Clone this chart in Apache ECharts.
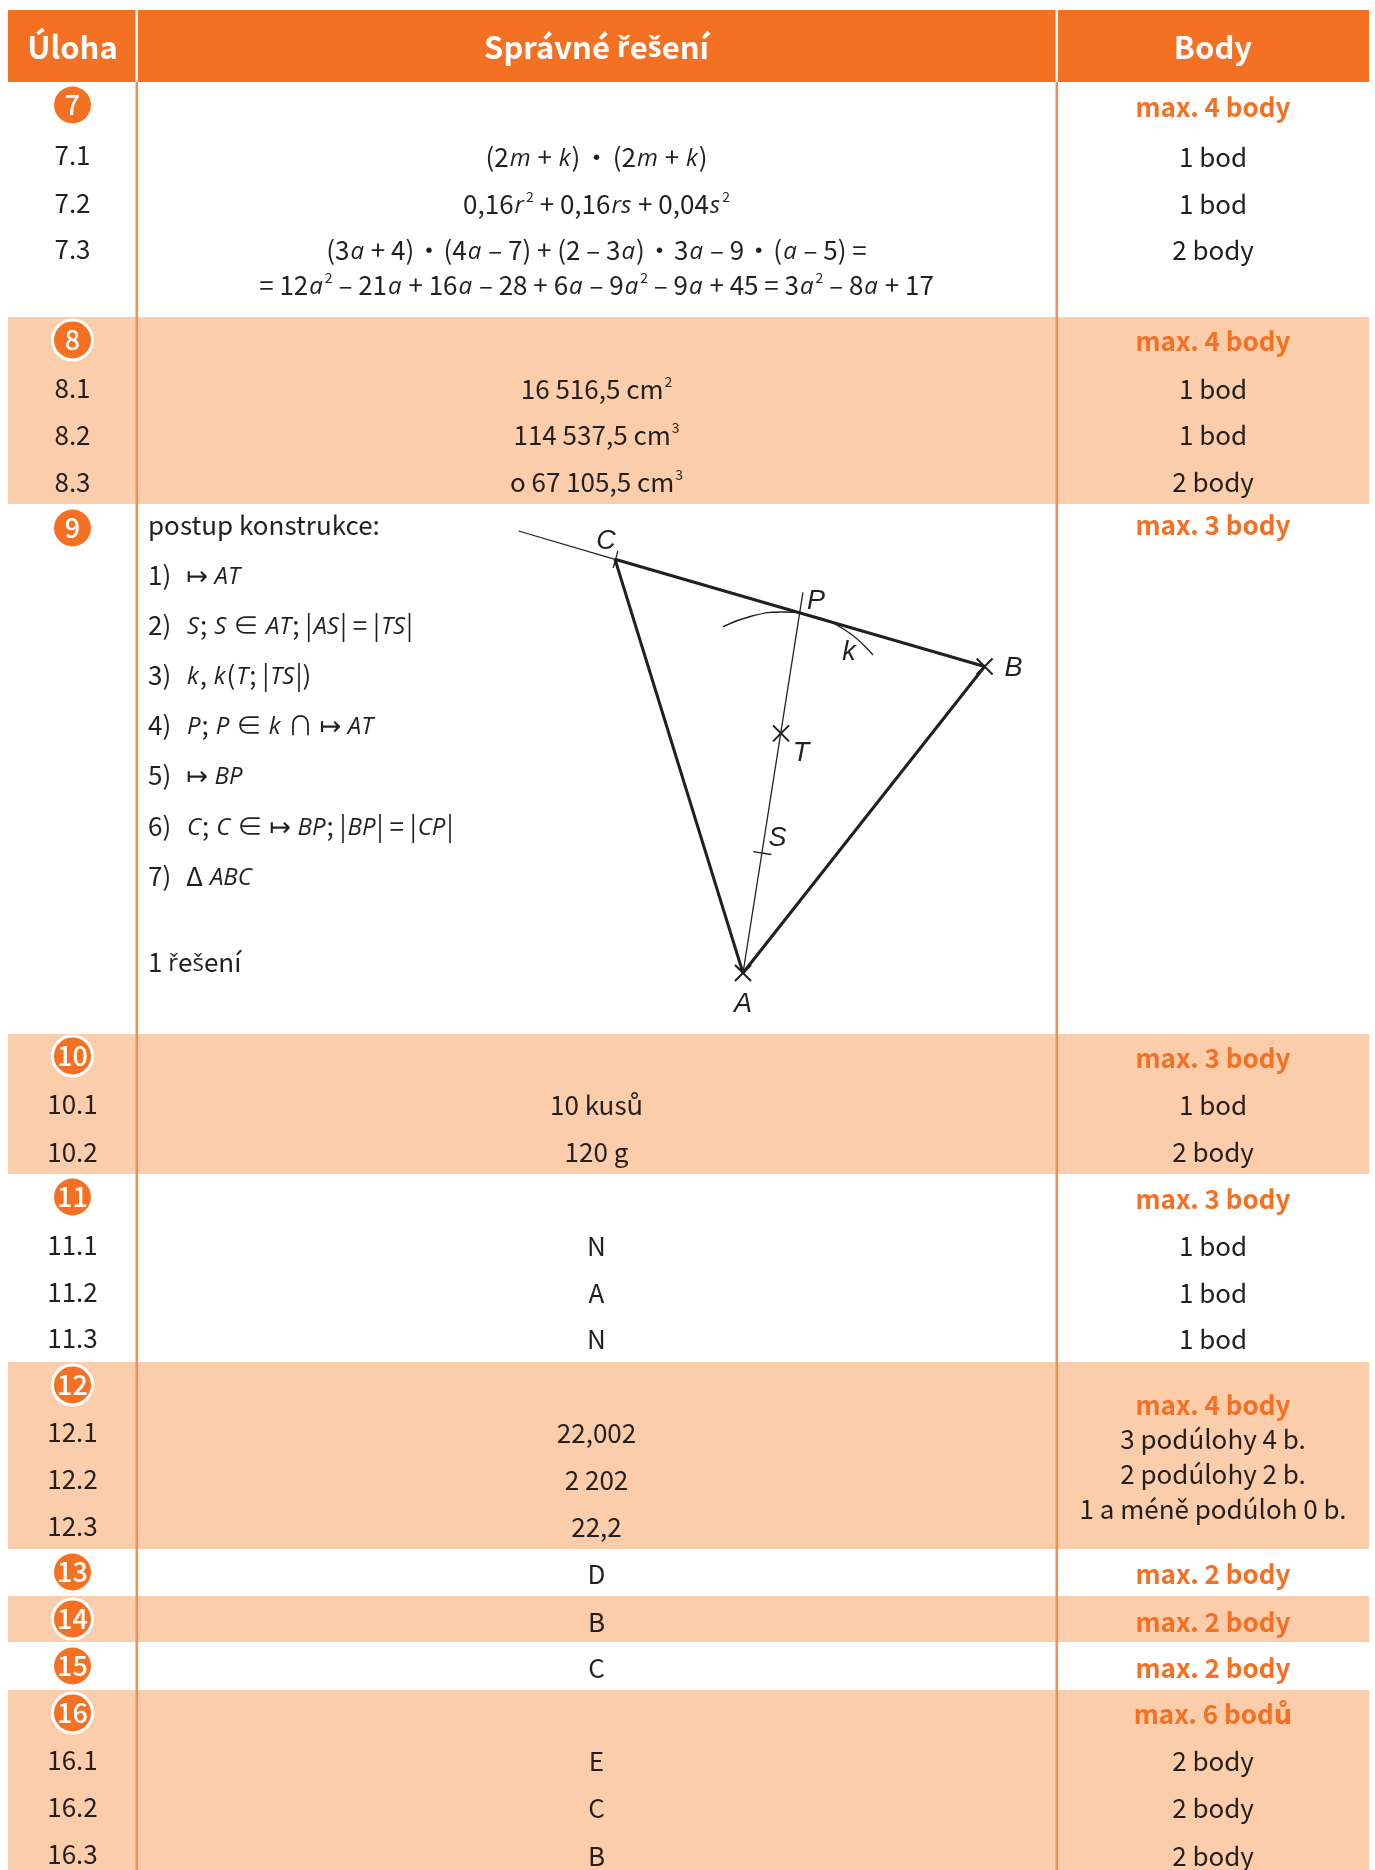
<!DOCTYPE html>
<html>
<head>
<meta charset="utf-8">
<title>Správné řešení</title>
<script src="https://cdn.jsdelivr.net/npm/echarts@6/dist/echarts.min.js"></script>
<style>
    html,body {margin:0;padding:0;background:#fff;}
    #chart {width:1375px;height:1870px;}
</style>
</head>
<body>
<div id="chart"></div>
<script>
// 表格内容
var headers = ['Úloha', 'Správné {hc|ř}e{hc|š}ení', 'Body'];
var taskPlain = ['7', '9', '11', '13', '15'];
var taskBanded = ['8', '10', '12', '14', '16'];
var subtasks = ['7.1','7.2','7.3','8.1','8.2','8.3','10.1','10.2','11.1','11.2','11.3','12.1','12.2','12.3','16.1','16.2','16.3'];
var answers = [
    '(2{i|m} + {i|k})\u200a\u200a·\u200a\u200a(2{i|m} + {i|k})',
    '0,16{i|r}{s|2} + 0,16{i|rs} + 0,04{i|s}{s|2}',
    '(3{i|a} + 4)\u200a·\u200a(4{i|a} – 7) + (2 – 3{i|a})\u200a·\u200a3{i|a} – 9\u200a·\u200a({i|a} – 5) =',
    '= 12{i|a}{s|2} – 21{i|a} + 16{i|a} – 28 + 6{i|a} – 9{i|a}{s|2} – 9{i|a} + 45 = 3{i|a}{s|2} – 8{i|a} + 17',
    '16 516,5 cm{s|2}',
    '114 537,5 cm{s|3}',
    'o 67 105,5 cm{s|3}',
    '10 kusů', '120 g',
    'N', 'A', 'N',
    '22,002', '2 202', '22,2',
    'D', 'B', 'C',
    'E', 'C', 'B'
];
var points = ['1 bod','1 bod','2 body','1 bod','1 bod','2 body','1 bod','2 body','1 bod','1 bod','1 bod','3 podúlohy 4 b.','2 podúlohy 2 b.','1 a méně podúloh 0 b.','2 body','2 body','2 body'];
var maxPoints = ['max. 4 body','max. 4 body','max. 3 body','max. 3 body','max. 3 body','max. 4 body','max. 2 body','max. 2 body','max. 2 body','max. 6 bodů'];
var stepTitle = ['postup konstrukce:', '1 {c|ř}e{c|š}ení'];
var stepNumbers = ['1)','2)','3)','4)','5)','6)','7)'];
var stepTexts = [
    '↦ {i|AT}',
    '{i|S}; {i|S} ∈ {i|AT}; |{i|AS}| = |{i|TS}|',
    '{i|k}, {i|k}({i|T}; |{i|TS}|)',
    '{i|P}; {i|P} ∈ {i|k} ∩ ↦ {i|AT}',
    '↦ {i|BP}',
    '{i|C}; {i|C} ∈ ↦ {i|BP}; |{i|BP}| = |{i|CP}|',
    'Δ {i|ABC}'
];

// 作图的点
var pointA = [253, 47];
var pointB = [494.6, 353.5];
var pointC = [125, 460.7];
var pointP = [310, 407];
var pointT = [291, 286.6];
var rayBPEnd = [28.6, 489];
var rayATEnd = [312.9, 427.6];
var tickC = [[127.9, 469], [123.2, 452]];
var tickS = [[263.2, 168.3], [281.4, 165.5]];
var arcK = [[233, 393.4], [262, 404], [291, 408], [320, 404.5], [355, 390], [383, 365]];
var pointNames = ['A', 'B', 'C', 'P', 'T', 'S', 'k'];
var pointNameAt = [[253, 16], [523.5, 351.5], [116, 479], [326, 419], [311, 267], [287.6, 182], [359, 368]];

// 版式
var FONT = '"Noto Sans CJK SC", "DejaVu Sans", sans-serif';
var ITALIC = '"Open Sans", sans-serif';
var ORANGE = '#f47023', BAND = '#fccdab', LINE = '#f78d4e', INK = '#231f20';
var colX = [72.5, 596.5, 1213];
var bandRows = [[317, 504], [1034, 1174], [1362, 1549], [1596, 1642], [1690, 1870]];
var headerY = 47;
var plainBadgeY = [105, 528, 1197, 1572, 1666];
var bandedBadgeY = [340, 1056, 1385, 1619, 1713];
var subtaskY = [155,203,249,388,435,482,1104,1152,1245,1292,1338,1432,1479,1526,1760,1807,1854];
var answerY = [157,204,250,285,389,435,482,1105,1152,1246,1293,1339,1433,1480,1527,1574,1622,1668,1761,1808,1856];
var pointsY = [157,204,250,389,435,482,1105,1152,1246,1293,1339,1439.5,1474,1509,1761,1808,1856];
var maxY = [107,341,525,1058,1199,1405,1574,1622,1668,1714];
var stepTitleY = [525, 962];
var stepY = [575,625,675,725,775,826,876];
var stepNumberX = 148, stepTextX = 186;

// 小字号片段的基线会偏高,用 padding 往下压
var richStyle = {
    i: {fontFamily: ITALIC, fontStyle: 'italic', fontSize: 24, lineHeight: 26, color: INK, padding: [4, 1, 0, 1]},
    s: {fontFamily: FONT, fontSize: 14, color: INK, verticalAlign: 'top', lineHeight: 30, padding: [2, 0, 0, 1]},
    c: {fontFamily: ITALIC, fontSize: 24, lineHeight: 26, color: INK, padding: [4, 0, 0, 0]},
    hc: {fontFamily: ITALIC, fontSize: 28, lineHeight: 28, fontWeight: 'bold', color: '#fff', padding: [5, 0, 0, 0]}
};

function rectSeries(rects, color, z) {
    return {
        type: 'custom', xAxisIndex: 0, yAxisIndex: 0, silent: true, z: z,
        data: rects,
        renderItem: function (params, api) {
            var a = api.coord([api.value(0), api.value(1)]);
            var b = api.coord([api.value(2), api.value(3)]);
            return {type: 'rect', shape: {x: a[0], y: a[1], width: b[0] - a[0], height: b[1] - a[1]}, style: {fill: color}};
        }
    };
}

function textSeries(xs, ys, texts, label) {
    var data = texts.map(function (t, i) {
        return [xs.length ? xs[i] : xs, ys[i], t];
    });
    return {
        type: 'scatter', xAxisIndex: 0, yAxisIndex: 0, symbolSize: 0, silent: true, z: 5,
        data: data,
        itemStyle: {opacity: 1},
        label: Object.assign({
            show: true, position: 'inside', align: 'center', verticalAlign: 'middle',
            fontFamily: FONT, fontSize: 26, color: INK, lineHeight: 32, rich: richStyle,
            formatter: function (p) { return p.value[2]; }
        }, label || {})
    };
}

function badgeSeries(ys, names, size, border) {
    return {
        type: 'scatter', xAxisIndex: 0, yAxisIndex: 0, symbol: 'circle', symbolSize: size, silent: true, z: 4,
        data: names.map(function (n, i) { return [colX[0], ys[i], n]; }),
        itemStyle: {color: ORANGE, opacity: 1, borderColor: '#fff', borderWidth: border},
        label: {
            show: true, position: 'inside', fontFamily: FONT, fontSize: 27, fontWeight: 500, color: '#fff',
            formatter: function (p) { return p.value[2]; }
        }
    };
}

function geoLine(pts, width, smooth) {
    return {
        type: 'line', xAxisIndex: 1, yAxisIndex: 1, data: pts, symbol: 'none', smooth: !!smooth, silent: true, z: 6,
        lineStyle: {color: INK, width: width}
    };
}

var series = [
    rectSeries([[8, 10, 1369, 82]], ORANGE, 1),
    rectSeries(bandRows.map(function (r) { return [8, r[0], 1369, r[1]]; }), BAND, 1),
    rectSeries([[135.5, 82, 138, 1870], [1055.5, 82, 1058, 1870]], LINE, 2),
    rectSeries([[135.5, 10, 138, 82], [1055.5, 10, 1058, 82]], '#fff', 2),
    textSeries(colX, [headerY, headerY, headerY], headers, {fontSize: 31, fontWeight: 'bold', color: '#fff'}),
    badgeSeries(plainBadgeY, taskPlain, 37, 0),
    badgeSeries(bandedBadgeY, taskBanded, 40, 3),
    textSeries(colX[0], subtaskY, subtasks),
    textSeries(colX[1], answerY, answers),
    textSeries(colX[2], pointsY, points),
    textSeries(colX[2], maxY, maxPoints, {fontWeight: 'bold', color: ORANGE}),
    textSeries(stepNumberX, stepTitleY, stepTitle, {align: 'left'}),
    textSeries(stepNumberX, stepY, stepNumbers, {align: 'left'}),
    textSeries(stepTextX, stepY, stepTexts, {align: 'left'}),
    // 构造图
    geoLine([rayBPEnd, pointC], 1.3),
    geoLine([pointA, rayATEnd], 1.3),
    geoLine(tickC, 1.3),
    geoLine(tickS, 1.3),
    geoLine(arcK, 1.3, true),
    geoLine([pointA, pointB, pointC, pointA], 3),
    {
        type: 'scatter', xAxisIndex: 1, yAxisIndex: 1, silent: true, z: 7,
        symbol: 'path://M0 0L10 10M10 0L0 10', symbolSize: 16,
        data: [pointA, pointB, pointT],
        itemStyle: {color: 'rgba(0,0,0,0)', borderColor: INK, borderWidth: 2, opacity: 1}
    },
    {
        type: 'scatter', xAxisIndex: 1, yAxisIndex: 1, symbolSize: 0, silent: true, z: 7,
        data: pointNames.map(function (n, i) { return [pointNameAt[i][0], pointNameAt[i][1], n]; }),
        itemStyle: {opacity: 1},
        label: {
            show: true, position: 'inside', fontFamily: '"Liberation Sans", sans-serif', fontStyle: 'italic',
            fontSize: 27, color: INK,
            formatter: function (p) { return p.value[2]; }
        }
    }
];

var myChart = echarts.init(document.getElementById('chart'));
var option = {
    animation: false,
    backgroundColor: '#fff',
    grid: [
        {left: 0, top: 0, width: 1375, height: 1870},
        {left: 490, top: 520, width: 560, height: 500}
    ],
    xAxis: [
        {type: 'value', gridIndex: 0, min: 0, max: 1375, show: false},
        {type: 'value', gridIndex: 1, min: 0, max: 560, show: false}
    ],
    yAxis: [
        {type: 'value', gridIndex: 0, min: 0, max: 1870, inverse: true, show: false},
        {type: 'value', gridIndex: 1, min: 0, max: 500, show: false}
    ],
    series: series
};
myChart.setOption(option);
</script>
</body>
</html>
